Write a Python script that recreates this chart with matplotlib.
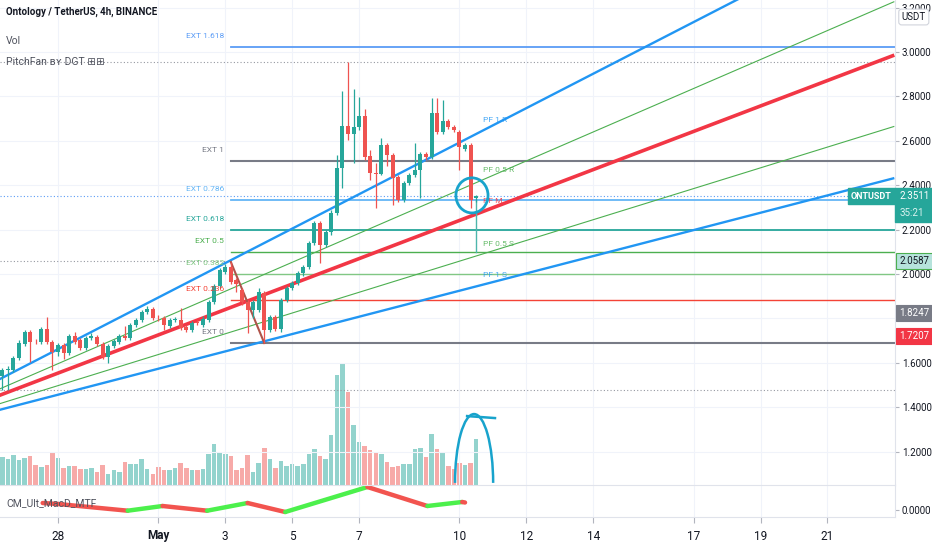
import numpy as np
import pandas as pd
import matplotlib
matplotlib.use('Agg')
import matplotlib.pyplot as plt
import matplotlib.dates as mdates
import matplotlib.transforms as mtrans
import matplotlib.font_manager as fm
from matplotlib.patches import Ellipse, Arc, Rectangle


def pick_font(names):
    for n in names:
        try:
            fm.findfont(fm.FontProperties(family=n), fallback_to_default=False)
            return n
        except ValueError:
            pass
    return 'DejaVu Sans'


NARROW = pick_font(['Liberation Sans Narrow', 'Roboto', 'DejaVu Sans'])
plt.rcParams['font.family'] = [NARROW, 'DejaVu Sans']

# --- ONT/USDT 4h candles (26 Apr 08:00 -> 10 May 12:00) ---
opens = [1.541, 1.568, 1.568, 1.622, 1.685, 1.739, 1.698, 1.694, 1.752, 1.694,
         1.649, 1.680, 1.644, 1.721, 1.703, 1.667, 1.712, 1.716, 1.685, 1.626,
         1.676, 1.694, 1.721, 1.712, 1.770, 1.793, 1.829, 1.842, 1.802, 1.802,
         1.766, 1.793, 1.793, 1.761, 1.748, 1.784, 1.770, 1.793, 1.874, 1.946,
         2.009, 2.032, 1.973, 1.928, 1.874, 1.838, 1.838, 1.914, 1.748, 1.806,
         1.752, 1.883, 1.937, 1.959, 2.005, 2.032, 2.140, 2.230, 2.131, 2.189,
         2.275, 2.477, 2.667, 2.631, 2.662, 2.712, 2.532, 2.455, 2.450, 2.581,
         2.536, 2.437, 2.333, 2.410, 2.446, 2.468, 2.541, 2.527, 2.725, 2.640,
         2.689, 2.662, 2.640, 2.563, 2.581, 2.342]
highs = [1.577, 1.586, 1.631, 1.703, 1.748, 1.748, 1.707, 1.761, 1.806, 1.703,
         1.689, 1.689, 1.730, 1.739, 1.712, 1.721, 1.734, 1.725, 1.694, 1.685,
         1.707, 1.730, 1.766, 1.779, 1.802, 1.838, 1.856, 1.851, 1.815, 1.811,
         1.802, 1.806, 1.847, 1.770, 1.788, 1.793, 1.811, 1.883, 1.955, 2.027,
         2.045, 2.054, 1.982, 1.937, 1.883, 1.883, 1.937, 1.923, 1.815, 1.815,
         1.892, 1.946, 1.968, 2.014, 2.041, 2.149, 2.239, 2.239, 2.198, 2.288,
         2.536, 2.824, 2.955, 2.833, 2.797, 2.743, 2.559, 2.500, 2.613, 2.590,
         2.545, 2.446, 2.419, 2.455, 2.590, 2.550, 2.550, 2.793, 2.793, 2.784,
         2.698, 2.671, 2.649, 2.590, 2.590, 2.356]
lows = [1.478, 1.478, 1.559, 1.613, 1.676, 1.604, 1.685, 1.685, 1.685, 1.568,
        1.631, 1.617, 1.635, 1.685, 1.658, 1.658, 1.703, 1.676, 1.617, 1.599,
        1.667, 1.685, 1.703, 1.703, 1.761, 1.784, 1.820, 1.793, 1.788, 1.748,
        1.757, 1.784, 1.748, 1.739, 1.739, 1.770, 1.761, 1.784, 1.865, 1.937,
        2.000, 1.955, 1.919, 1.860, 1.734, 1.802, 1.829, 1.689, 1.739, 1.743,
        1.739, 1.874, 1.928, 1.950, 1.991, 2.023, 2.131, 2.050, 2.122, 2.176,
        2.266, 2.387, 2.604, 2.500, 2.649, 2.514, 2.423, 2.297, 2.446, 2.486,
        2.311, 2.324, 2.324, 2.401, 2.437, 2.342, 2.514, 2.518, 2.631, 2.631,
        2.653, 2.640, 2.468, 2.554, 2.297, 2.324]
closes = [1.568, 1.572, 1.622, 1.689, 1.739, 1.694, 1.696, 1.752, 1.694, 1.649,
          1.680, 1.644, 1.721, 1.694, 1.667, 1.712, 1.721, 1.685, 1.626, 1.676,
          1.698, 1.721, 1.712, 1.770, 1.793, 1.829, 1.842, 1.802, 1.800, 1.770,
          1.793, 1.797, 1.757, 1.748, 1.779, 1.779, 1.797, 1.874, 1.946, 2.018,
          2.032, 1.964, 1.955, 1.874, 1.838, 1.874, 1.919, 1.748, 1.806, 1.752,
          1.883, 1.937, 1.959, 2.005, 2.032, 2.140, 2.230, 2.131, 2.189, 2.275,
          2.477, 2.667, 2.631, 2.662, 2.712, 2.527, 2.455, 2.450, 2.581, 2.536,
          2.432, 2.333, 2.410, 2.446, 2.468, 2.541, 2.527, 2.725, 2.640, 2.689,
          2.662, 2.649, 2.572, 2.581, 2.333, 2.3511]
volume = [28, 26, 30, 25, 27, 29, 20, 18, 20, 33,
          27, 17, 19, 19, 16, 16, 17, 13, 20, 11,
          15, 13, 23, 21, 21, 26, 16, 11, 18, 15,
          15, 17, 22, 17, 15, 15, 16, 31, 41, 33,
          31, 29, 15, 17, 30, 13, 22, 37, 26, 17,
          24, 19, 21, 19, 21, 31, 36, 29, 26, 50,
          110, 121, 93, 60, 43, 39, 35, 33, 31, 23,
          18, 19, 21, 21, 36, 37, 28, 51, 36, 32,
          19, 16, 22, 20, 22, 46]
first_candle = '2021-04-26 08:00'

# --- PitchFan (origin + price at right edge) ---
fan_origin = ('2021-04-22 16:00', 1.248)
fan_end_time = '2021-05-23 00:00'
fan_names = ['PF 1 R', 'PF 0.5 R', 'PF M', 'PF 0.5 S', 'PF 1 S']
fan_end_prices = [3.600, 3.227, 2.986, 2.665, 2.432]
fan_colors = ['#2196f3', '#4caf50', '#f23645', '#4caf50', '#2196f3']
fan_widths = [1.7, 0.8, 2.6, 0.8, 1.7]

# --- extension levels ---
ext_names = ['EXT 1.618', 'EXT 1', 'EXT 0.786', 'EXT 0.618', 'EXT 0.5',
             'EXT 0.382', 'EXT 0.236', 'EXT 0']
ext_prices = [3.022, 2.509, 2.333, 2.198, 2.099, 2.000, 1.882, 1.689]
ext_colors = ['#5b9cf6', '#787b86', '#64b5f6', '#26a69a', '#4caf50',
              '#81c784', '#f44336', '#787b86']
ext_widths = [1.3, 1.5, 1.3, 1.3, 1.0, 1.0, 1.0, 1.5]
ext_start = '2021-05-03 04:00'
swing = [('2021-05-03 04:00', 2.054), ('2021-05-04 04:00', 1.689)]

# --- CM_Ult_MacD_MTF ---
macd_times = ['2021-04-27 13:00', '2021-04-28 00:00', '2021-04-30 02:00',
              '2021-05-01 03:00', '2021-05-02 11:00', '2021-05-03 16:00',
              '2021-05-04 19:00', '2021-05-07 06:00', '2021-05-09 01:00',
              '2021-05-10 02:00', '2021-05-10 04:00']
macd_vals = [0.007, 0.006, -0.0007, 0.004, -0.0007, 0.007, -0.002, 0.023,
             0.004, 0.008, 0.0075]

tick_dates = ['2021-04-28', '2021-05-01', '2021-05-03', '2021-05-05', '2021-05-07',
              '2021-05-10', '2021-05-12', '2021-05-14', '2021-05-17', '2021-05-19',
              '2021-05-21']
tick_labels = ['28', 'May', '3', '5', '7', '10', '12', '14', '17', '19', '21']
hidden_price_ticks = [1.8]  # covered by the 1.8247 label box


def dn(s):
    return mdates.date2num(pd.Timestamp(s))


GREEN = '#26a69a'
RED = '#ef5350'
TXT = '#131722'
SEP = '#e0e3eb'
GRID = '#f0f3fa'
AXFS = 7

fig = plt.figure(figsize=(9.32, 5.5), dpi=100)
ax = fig.add_axes([0, 65 / 550, 895 / 932, 485 / 550])
axm = fig.add_axes([0, 33 / 550, 895 / 932, 32 / 550])
axv = ax.twinx()
ax.set_zorder(3)
axv.set_zorder(2)
ax.patch.set_visible(False)

x0 = dn('2021-04-28')
xlim = (x0 - 1.734, x0 + 25.02)
ax.set_xlim(xlim)
axm.set_xlim(xlim)
ax.set_ylim(1.0495, 3.2342)

t = mdates.date2num(pd.date_range(first_candle, periods=len(opens), freq='4h'))
o, h, l, c = map(np.array, (opens, highs, lows, closes))
up = c >= o
col = np.where(up, GREEN, RED)

# volume (behind)
vcol = np.where(up, '#93d3cd', '#f7aaa8')
axv.bar(t, volume, width=0.135, color=vcol, linewidth=0)
axv.set_ylim(0, 4.0 * max(volume))
axv.set_axis_off()

# grid
ax.set_xticks([dn(d) for d in tick_dates])
yt = np.round(np.arange(1.2, 3.21, 0.2), 1)
ax.set_yticks(yt)
ax.grid(True, color=GRID, lw=0.8, zorder=0)
ax.set_axisbelow(True)

# fan lines
fx = [dn(fan_origin[0]), dn(fan_end_time)]
for name, pe, fc_, lw in zip(fan_names, fan_end_prices, fan_colors, fan_widths):
    ax.plot(fx, [fan_origin[1], pe], color=fc_, lw=lw, zorder=3, solid_capstyle='butt')
    lx = dn('2021-05-10 17:00')
    ly = np.interp(lx, fx, [fan_origin[1], pe]) + 0.045
    ax.text(lx, ly, name, color=fc_, fontsize=6, va='center', ha='left', zorder=6, alpha=0.85)

# extension levels
for name, p, ec_, lw in zip(ext_names, ext_prices, ext_colors, ext_widths):
    ax.plot([dn(ext_start), xlim[1]], [p, p], color=ec_, lw=lw, zorder=2)
    ax.text(dn('2021-05-02 23:00'), p + 0.05, name, color=ec_, fontsize=6,
            ha='right', va='center', zorder=6)

# dotted price lines
for p, lc, x_end in [(2.955, '#9598a1', xlim[1]), (1.478, '#9598a1', xlim[1]),
                     (2.3511, '#5b9cf6', xlim[1]), (2.0587, '#9598a1', dn(ext_start))]:
    ax.plot([xlim[0], x_end], [p, p], color=lc, lw=0.8, ls=(0, (1, 2)), zorder=2)

# swing leg
ax.plot([dn(s[0]) for s in swing], [s[1] for s in swing], color='#b0534a', lw=1.5, zorder=4)
ax.plot([t[-1], t[-1]], [2.333, 2.099], color='#4db6ac', lw=1.0, zorder=4)

# candles
ax.vlines(t, l, h, colors=col, lw=0.9, zorder=5)
ax.bar(t, np.maximum(np.abs(c - o), 0.004), bottom=np.minimum(o, c), width=0.12,
       color=col, linewidth=0, zorder=5)

# hand drawn marks
CYAN = '#18a3cc'
ax.add_patch(Ellipse((dn('2021-05-10 09:00'), 2.354), 0.96, 0.158, fill=False,
                     ec=CYAN, lw=2, zorder=7))
ax.add_patch(Arc((dn('2021-05-10 10:30'), 1.059), 1.14, 0.62, theta1=0, theta2=180,
                 ec=CYAN, lw=1.8, zorder=7))
ax.plot([dn('2021-05-10 05:30'), dn('2021-05-11 01:30')], [1.360, 1.351], color=CYAN,
        lw=1.8, zorder=7)

# axes styling
for s in ('top', 'left'):
    ax.spines[s].set_visible(False)
    axm.spines[s].set_visible(False)
for a in (ax, axm):
    a.spines['right'].set_color(SEP)
    a.spines['bottom'].set_color(SEP)
ax.yaxis.tick_right()
ax.set_yticklabels(['' if v in hidden_price_ticks else f'{v:.4f}' for v in yt])
ax.tick_params(axis='y', length=3, color='#b2b5be', labelsize=AXFS, labelcolor=TXT, pad=2)
ax.tick_params(axis='x', length=0, labelbottom=False)

# price axis boxes
tr = mtrans.blended_transform_factory(ax.transAxes, ax.transData)
ax.add_patch(Rectangle((1.0, 2.234), 37 / 895, 0.153, transform=tr, clip_on=False,
                       fc=GREEN, ec=GREEN, zorder=20))
ax.text(1.005, 2.3511, '2.3511', transform=tr, color='white', fontsize=AXFS, va='center',
        ha='left', zorder=21, clip_on=False)
ax.text(1.005, 2.275, '35:21', transform=tr, color='#d9f2ef', fontsize=AXFS, va='center',
        ha='left', zorder=21, clip_on=False)
ax.text(0.996, 2.3511, 'ONTUSDT', transform=tr, color='white', fontsize=6.5, va='center',
        ha='right', zorder=21, fontweight='bold',
        bbox=dict(boxstyle='square,pad=0.35', fc=GREEN, ec=GREEN))
for p, txt, fc_, ec_, tc in [(2.0587, '2.0587', '#b6e3dc', '#4caf50', TXT),
                             (1.8247, '1.8247', '#787b86', '#787b86', 'white'),
                             (1.7207, '1.7207', '#f23645', '#f23645', 'white')]:
    ax.text(1.005, p, txt, transform=tr, color=tc, fontsize=AXFS, va='center', ha='left',
            zorder=21, clip_on=False,
            bbox=dict(boxstyle='square,pad=0.35', fc=fc_, ec=ec_, lw=0.8))
ax.text(1.021, 1 - 17 / 485, 'USDT', transform=ax.transAxes, fontsize=AXFS, color=TXT,
        ha='center', va='center', clip_on=False, zorder=21,
        bbox=dict(boxstyle='round,pad=0.3', fc='white', ec='#d1d4dc', lw=0.8))

# MACD pane
axm.set_ylim(-0.007, 0.025)
mt = [dn(s) for s in macd_times]
for i in range(len(mt) - 1):
    seg_col = '#4cf04c' if macd_vals[i + 1] >= macd_vals[i] else '#f2544f'
    axm.plot(mt[i:i + 2], macd_vals[i:i + 2], color=seg_col, lw=3.2,
             solid_capstyle='round')
axm.yaxis.tick_right()
axm.set_yticks([0])
axm.set_yticklabels(['0.0000'])
axm.tick_params(axis='y', length=3, color='#b2b5be', labelsize=AXFS, labelcolor=TXT, pad=2)
axm.set_xticks([dn(d) for d in tick_dates])
axm.set_xticklabels(tick_labels)
axm.tick_params(axis='x', length=4, color='#b2b5be', labelsize=8.5, labelcolor=TXT, pad=5)
for lab in axm.get_xticklabels():
    if lab.get_text() == 'May':
        lab.set_fontweight('bold')
axm.grid(True, axis='x', color=GRID, lw=0.8)
axm.set_axisbelow(True)

# legend texts
fig.text(6 / 932, 1 - 12 / 550, 'Ontology / TetherUS, 4h, BINANCE', fontsize=7,
         fontweight='bold', color=TXT, va='center', zorder=30)
fig.text(6 / 932, 1 - 41 / 550, 'Vol', fontsize=7.5, color='#50535e', va='center', zorder=30)
fig.text(6 / 932, 1 - 62 / 550, 'PitchFan ʙʏ DGT ⊞⊞', fontsize=7.5, color='#50535e',
         va='center', zorder=30)
fig.text(6 / 932, 1 - 503 / 550, 'CM_Ult_MacD_MTF', fontsize=7.5, color='#50535e',
         va='center', zorder=30)

fig.savefig('out.png', dpi=100, facecolor='white')
